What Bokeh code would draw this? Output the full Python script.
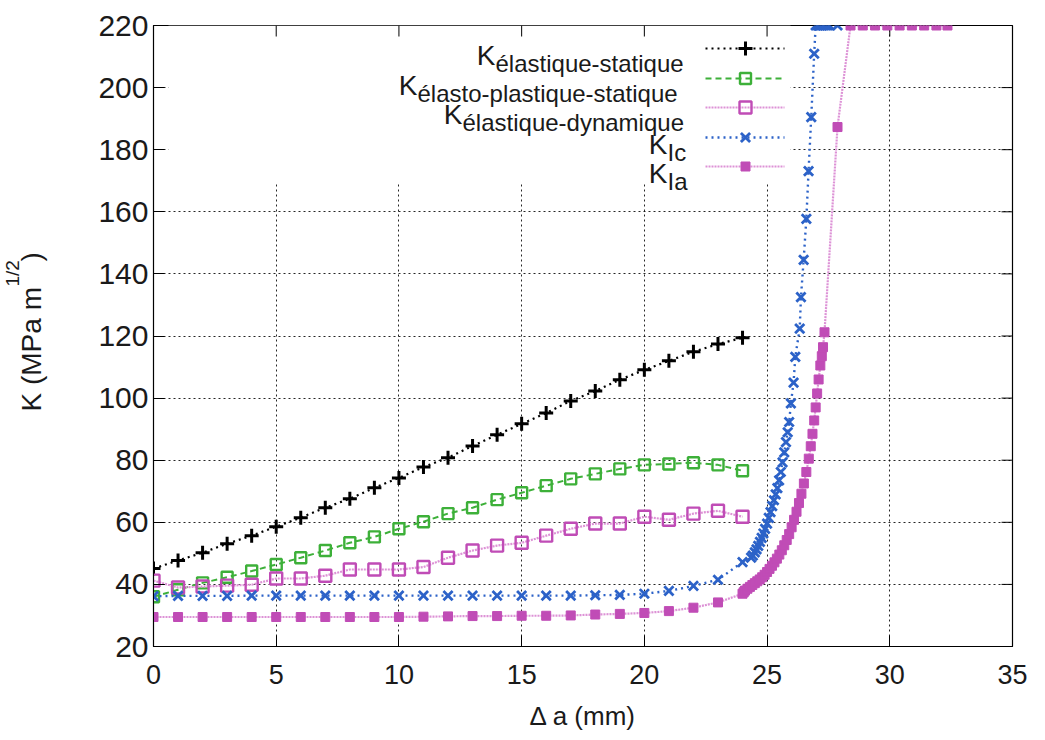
from math import pi
from bokeh.plotting import figure
from bokeh.layouts import row
from bokeh.models import Range1d, Label, BoxAnnotation, FixedTicker
from bokeh.core.properties import value
from bokeh.embed import file_html
from bokeh.resources import INLINE

# ---------------- data ----------------
x_static = list(range(25))
k_el_static = [45.1, 47.7, 50.2, 53.1, 55.7, 58.6, 61.5, 64.7, 67.6, 71.1, 74.3, 77.8, 80.8,
               84.6, 88.2, 91.7, 95.2, 99.1, 102.3, 105.9, 109.1, 112.0, 114.9, 117.4, 119.4]
k_elpl_static = [36.0, 38.3, 40.5, 42.3, 44.3, 46.4, 48.6, 50.9, 53.4, 55.3, 57.9, 60.2, 62.8,
                 64.7, 67.3, 69.5, 71.8, 74.0, 75.6, 77.2, 78.5, 78.8, 79.2, 78.5, 76.6]
k_el_dyn = [41.2, 39.0, 39.3, 39.6, 39.9, 41.9, 41.9, 42.8, 44.8, 44.8, 44.8, 45.6, 48.6,
            50.9, 52.5, 53.4, 55.7, 57.9, 59.6, 59.6, 61.8, 60.8, 62.8, 63.7, 61.8]

x_kic = [0, 1, 2, 3, 4, 5, 6, 7, 8, 9, 10, 11, 12, 13, 14, 15, 16, 17, 18, 19, 20, 21, 22, 23,
         24.0, 24.35, 24.42, 24.5, 24.57, 24.64, 24.71, 24.78, 24.85, 24.92, 25.0, 25.07,
         25.14, 25.21, 25.28, 25.35, 25.42, 25.49, 25.56, 25.63, 25.7, 25.77, 25.84, 25.9,
         25.97, 26.08, 26.15, 26.33, 26.38, 26.49, 26.6, 26.69, 26.8, 26.92,
         26.98, 27.06, 27.14, 27.22, 27.3, 27.38, 27.46, 27.54, 27.87]
k_ic = [36.2, 36.3, 36.3, 36.3, 36.4, 36.4, 36.4, 36.4, 36.4, 36.4, 36.4, 36.4, 36.4, 36.4,
        36.4, 36.4, 36.4, 36.4, 36.5, 36.6, 37.0, 37.9, 39.5, 41.5,
        47.2, 48.6, 49.3, 50.3, 51.3, 52.4, 53.7, 55.0, 56.4, 57.9, 59.6, 61.4,
        63.3, 65.2, 67.1, 69.0, 71.0, 73.5, 76.2, 79.3, 82.5, 85.8, 89.0, 92.3,
        98.3, 105.0, 113.3, 122.4, 132.5, 144.5, 157.7, 173.1, 190.5, 210.9,
        220, 220, 220, 220, 220, 220, 220, 220, 220]

x_kia = [0, 1, 2, 3, 4, 5, 6, 7, 8, 9, 10, 11, 12, 13, 14, 15, 16, 17, 18, 19, 20, 21, 22, 23,
         24.0, 24.05, 24.1, 24.2, 24.3, 24.4, 24.5, 24.6, 24.7, 24.8, 24.9, 25.0, 25.1, 25.2,
         25.3, 25.4, 25.5, 25.6, 25.7, 25.8, 25.9, 26.0, 26.1, 26.2, 26.3, 26.4, 26.5, 26.6,
         26.7, 26.78, 26.85, 26.92, 26.98, 27.04, 27.1, 27.17, 27.23, 27.28, 27.34, 27.87,
         28.4, 28.9, 29.4, 29.9, 30.4, 30.9, 31.4, 31.9, 32.35]
k_ia = [29.5, 29.5, 29.5, 29.5, 29.5, 29.5, 29.5, 29.5, 29.5, 29.5, 29.5, 29.6, 29.7, 29.8,
        29.8, 29.9, 29.9, 30.0, 30.3, 30.5, 30.8, 31.4, 32.5, 34.2,
        37.0, 37.5, 38.0, 38.6, 39.2, 39.8, 40.4, 41.0, 41.6, 42.3, 43.1, 44.0, 45.0, 46.0,
        47.1, 48.3, 49.6, 51.0, 52.6, 54.3, 56.2, 58.4, 60.8, 63.4, 66.2, 69.2, 72.5, 76.2,
        80.5, 84.5, 88.5, 92.8, 97.0, 101.5, 106.0, 110.5, 113.5, 116.4, 121.2, 187.3,
        220, 220, 220, 220, 220, 220, 220, 220, 220]

x_ticks = [0, 5, 10, 15, 20, 25, 30, 35]
y_ticks = [20, 40, 60, 80, 100, 120, 140, 160, 180, 200, 220]

legend_labels = ["élastique-statique", "élasto-plastique-statique", "élastique-dynamique", "Ic", "Ia"]
y_title_parts = ["K (MPa m", "1/2", ")"]

# ---------------- layout helpers (pixel -> data, for key/labels only) ----------------
LEFT_W = 60
FL, FR, FT, FB = 153, 1012, 25, 646
X0, X1, Y0, Y1 = 0, 35, 20, 220


def X(px):
    return X0 + (px - FL) * (X1 - X0) / (FR - FL)


def Y(py):
    return Y0 + (FB - py) * (Y1 - Y0) / (FB - FT)


BLACK = "#000000"
GREEN = "#3db039"
MAG = "#c04cb6"
MAG_LINE = "#dd92d6"
BLUE = "#2c62c8"
TXT = "#1a1a1a"

# ---------------- narrow left strip holding the y title (frame aligned with main) ----------------
pl = figure(width=LEFT_W, height=740, x_range=Range1d(0, LEFT_W), y_range=Range1d(Y0, Y1),
            output_backend="svg", toolbar_location=None, min_border=0,
            outline_line_color=None, x_axis_type=None, y_axis_type=None,
            background_fill_color="white", border_fill_color="white")
pl.grid.visible = False
for txt, cx, sy, fs in ((y_title_parts[0], 31, 411, "28px"), (y_title_parts[1], 12, 286, "19px"),
                        (y_title_parts[2], 31, 261, "28px")):
    pl.text(x=[cx], y=[Y(sy)], text=[txt], angle=pi / 2, text_font=value("Liberation Sans"),
            text_font_size=value(fs), text_align="left", text_baseline="middle",
            text_color=TXT)

# ---------------- main plot ----------------
p = figure(width=1045 - LEFT_W, height=740, x_range=Range1d(X0, X1), y_range=Range1d(Y0, Y1),
           output_backend="svg", toolbar_location=None,
           min_border_left=FL - LEFT_W, min_border_right=1045 - FR, min_border_top=FT,
           min_border_bottom=740 - FB,
           background_fill_color="white", border_fill_color="white",
           outline_line_color="black", outline_line_width=1.2)

for ax, ticks in ((p.xaxis[0], x_ticks), (p.yaxis[0], y_ticks)):
    ax.ticker = FixedTicker(ticks=ticks)
    ax.major_tick_in = 11
    ax.major_tick_out = 0
    ax.minor_tick_in = 0
    ax.minor_tick_out = 0
    ax.axis_line_color = "black"
    ax.major_tick_line_color = "black"
    ax.major_label_text_color = TXT

p.yaxis.major_label_text_font = "Liberation Sans"
p.yaxis.major_label_text_font_size = "30px"
p.yaxis.major_label_standoff = 5
p.xaxis.major_label_text_font = "Liberation Sans"
p.xaxis.major_label_text_font_size = "27px"
p.xaxis.major_label_standoff = 18
p.xaxis.axis_label = "Δ a (mm)"
p.xaxis.axis_label_text_font = "Liberation Sans"
p.xaxis.axis_label_text_font_size = "26px"
p.xaxis.axis_label_text_font_style = "normal"
p.xaxis.axis_label_text_color = TXT
p.xaxis.axis_label_standoff = 14

p.xgrid.ticker = FixedTicker(ticks=x_ticks)
p.ygrid.ticker = FixedTicker(ticks=y_ticks)
p.grid.grid_line_color = "black"
p.grid.grid_line_dash = "2 3"
p.grid.grid_line_width = 1
p.grid.grid_line_alpha = 0.85

# mirror ticks on top and right edges
tick_dy = 11 * (Y1 - Y0) / (FB - FT)
tick_dx = 11 * (X1 - X0) / (FR - FL)
p.segment(x0=x_ticks, y0=[Y1] * len(x_ticks), x1=x_ticks, y1=[Y1 - tick_dy] * len(x_ticks),
          line_color="black", line_width=1)
p.segment(x0=[X1] * len(y_ticks), y0=y_ticks, x1=[X1 - tick_dx] * len(y_ticks), y1=y_ticks,
          line_color="black", line_width=1)

# white key box hiding the grid
key_box = BoxAnnotation(left=X(168), right=X(790), bottom=Y(183), top=Y1,
                        fill_color="white", fill_alpha=1.0, line_alpha=0, level="underlay")
p.add_layout(key_box)

# ---------------- series ----------------
styles = [
    dict(xs=x_static, ys=k_el_static, lc=BLACK, dash="2 4", lw=2.2,
         marker="cross", mc=BLACK, fill=None, size=14, mlw=3),
    dict(xs=x_static, ys=k_elpl_static, lc=GREEN, dash="6 4", lw=2,
         marker="square", mc=GREEN, fill=None, size=11, mlw=2.4),
    dict(xs=x_static, ys=k_el_dyn, lc=MAG_LINE, dash="2 1", lw=2.2,
         marker="square", mc=MAG, fill=None, size=12, mlw=2.4),
    dict(xs=x_kic, ys=k_ic, lc=BLUE, dash="2 4", lw=2.4,
         marker="x", mc=BLUE, fill=None, size=13, mlw=2.8),
    dict(xs=x_kia, ys=k_ia, lc=MAG_LINE, dash="2 1", lw=2.2,
         marker="square", mc=MAG, fill=MAG, size=9, mlw=1),
]


def draw(xs, ys, s):
    if s["fill"] is None:
        p.scatter(xs, ys, marker=s["marker"], size=s["size"], line_color=s["mc"],
                  line_width=s["mlw"], fill_alpha=0)
    else:
        p.scatter(xs, ys, marker=s["marker"], size=s["size"], line_color=s["mc"],
                  line_width=s["mlw"], fill_color=s["fill"])


for s in styles:
    p.line(s["xs"], s["ys"], line_color=s["lc"], line_width=s["lw"], line_dash=s["dash"])
    draw(s["xs"], s["ys"], s)

# ---------------- key ----------------
sample_py = [48, 78, 107, 137, 166]
k_right_px = [495, 417, 462, 667, 667]
for i, s in enumerate(styles):
    yy = Y(sample_py[i])
    p.line([X(705), X(784)], [yy, yy], line_color=s["lc"], line_width=s["lw"],
           line_dash=s["dash"])
    draw([X(745)], [yy], s)
    kb = sample_py[i] + 7
    p.add_layout(Label(x=X(k_right_px[i]), y=Y(kb), text="K", text_font="Liberation Sans",
                       text_font_size="28px", text_align="right", text_baseline="alphabetic",
                       text_color=TXT))
    p.add_layout(Label(x=X(k_right_px[i]), y=Y(kb + 8), text=legend_labels[i],
                       text_font="Liberation Sans", text_font_size="24px", text_align="left",
                       text_baseline="alphabetic", text_color=TXT))

open("out.html", "w").write(file_html(row(pl, p), INLINE))
